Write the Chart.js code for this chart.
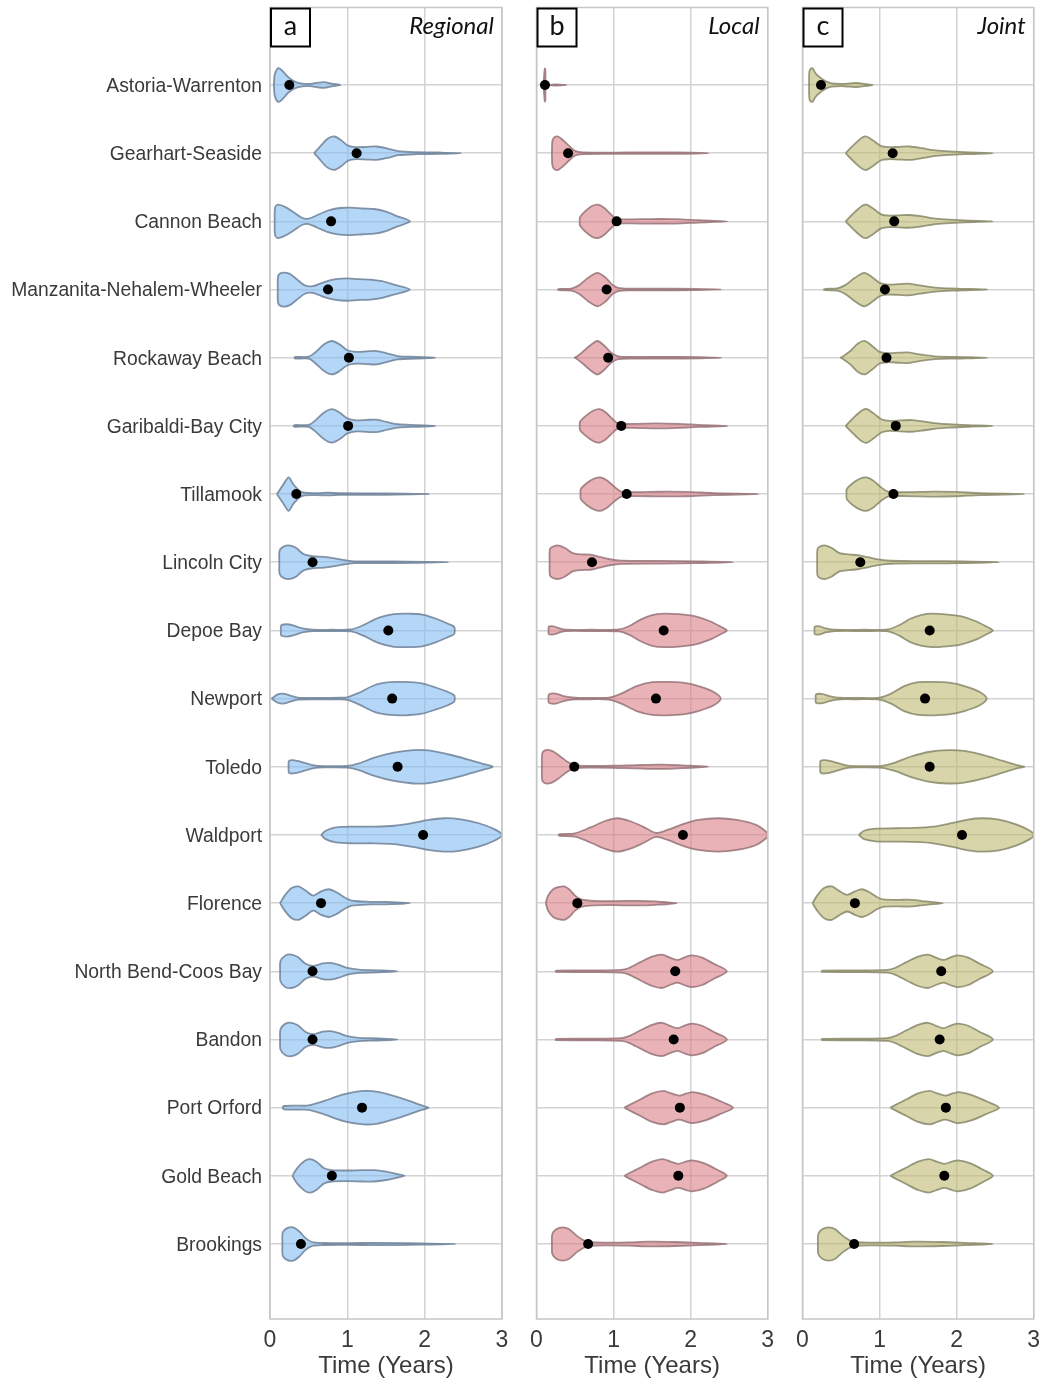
<!DOCTYPE html>
<html>
<head>
<meta charset="utf-8">
<script src="https://cdn.jsdelivr.net/npm/chart.js@4.4.1/dist/chart.umd.min.js"></script>
<style>
  html, body { margin: 0; padding: 0; background: #ffffff; }
  #wrap { position: relative; width: 1043px; height: 1387px; overflow: hidden; }
  canvas { position: absolute; top: 0; }
</style>
</head>
<body>
<div id="wrap">
  <canvas id="panelA" width="520" height="1387" style="left:0px"></canvas>
  <canvas id="panelB" width="265" height="1387" style="left:520px"></canvas>
  <canvas id="panelC" width="257" height="1387" style="left:786px"></canvas>
</div>
<script>
// Communities, top to bottom
const locations = [
  'Astoria-Warrenton', 'Gearhart-Seaside', 'Cannon Beach', 'Manzanita-Nehalem-Wheeler',
  'Rockaway Beach', 'Garibaldi-Bay City', 'Tillamook', 'Lincoln City', 'Depoe Bay',
  'Newport', 'Toledo', 'Waldport', 'Florence', 'North Bend-Coos Bay', 'Bandon',
  'Port Orford', 'Gold Beach', 'Brookings'
];
const timeTicks = [0, 1, 2, 3];
const panelLetters = ['a', 'b', 'c'];
const panelTitles = ['Regional', 'Local', 'Joint'];

// Mean recovery time (years) per community
const regionalMeans = [0.25, 1.12, 0.79, 0.75, 1.02, 1.01, 0.34, 0.55, 1.53, 1.58, 1.65, 1.98, 0.66, 0.55, 0.55, 1.19, 0.80, 0.40];
const localMeans    = [0.11, 0.41, 1.04, 0.91, 0.93, 1.10, 1.17, 0.72, 1.65, 1.55, 0.49, 1.90, 0.53, 1.80, 1.78, 1.86, 1.84, 0.67];
const jointMeans    = [0.24, 1.17, 1.19, 1.07, 1.09, 1.21, 1.18, 0.75, 1.65, 1.59, 1.65, 2.07, 0.68, 1.80, 1.78, 1.86, 1.84, 0.67];

// Density profiles: [time (years), relative density 0..1]
const regionalDensity = [
  [[0.05,0],[0.06,0.6],[0.09,0.95],[0.12,1.0],[0.17,0.8],[0.24,0.45],[0.32,0.2],[0.42,0.08],[0.52,0.07],[0.62,0.14],[0.70,0.17],[0.80,0.08],[0.91,0]],
  [[0.57,0],[0.63,0.3],[0.74,0.85],[0.83,1.0],[0.92,0.78],[1.01,0.45],[1.12,0.36],[1.25,0.38],[1.38,0.4],[1.52,0.28],[1.66,0.12],[1.9,0.06],[2.2,0.04],[2.47,0]],
  [[0.06,0],[0.065,0.8],[0.1,1.0],[0.2,0.85],[0.32,0.5],[0.42,0.2],[0.5,0.16],[0.6,0.35],[0.75,0.65],[0.9,0.8],[1.05,0.82],[1.2,0.77],[1.35,0.74],[1.5,0.58],[1.65,0.3],[1.81,0]],
  [[0.1,0],[0.105,0.8],[0.15,1.0],[0.25,0.95],[0.35,0.6],[0.45,0.25],[0.55,0.2],[0.7,0.45],[0.85,0.62],[1.0,0.67],[1.15,0.62],[1.3,0.6],[1.45,0.5],[1.6,0.3],[1.81,0]],
  [[0.31,0],[0.33,0.05],[0.5,0.06],[0.58,0.3],[0.7,0.8],[0.8,1.0],[0.9,0.8],[1.0,0.45],[1.12,0.35],[1.25,0.38],[1.38,0.4],[1.52,0.25],[1.65,0.1],[1.9,0.05],[2.14,0]],
  [[0.3,0],[0.32,0.05],[0.5,0.06],[0.58,0.3],[0.7,0.8],[0.8,1.0],[0.9,0.8],[1.0,0.45],[1.12,0.33],[1.25,0.36],[1.38,0.37],[1.52,0.22],[1.65,0.1],[1.9,0.05],[2.14,0]],
  [[0.09,0],[0.17,0.55],[0.24,1.0],[0.3,0.6],[0.38,0.2],[0.45,0.08],[0.6,0.06],[0.76,0.08],[0.9,0.05],[1.5,0.04],[2.06,0]],
  [[0.12,0],[0.125,0.7],[0.18,0.95],[0.26,1.0],[0.34,0.85],[0.43,0.5],[0.55,0.36],[0.7,0.32],[0.85,0.22],[0.97,0.12],[1.1,0.05],[1.6,0.05],[2.31,0]],
  [[0.14,0],[0.145,0.3],[0.22,0.37],[0.3,0.3],[0.42,0.12],[0.55,0.04],[0.8,0.04],[1.05,0.06],[1.2,0.3],[1.4,0.75],[1.6,0.98],[1.8,1.0],[1.97,0.95],[2.15,0.7],[2.3,0.4],[2.38,0.22],[2.39,0]],
  [[0.02,0],[0.1,0.25],[0.17,0.3],[0.25,0.2],[0.36,0.06],[0.6,0.04],[0.9,0.05],[1.0,0.08],[1.15,0.35],[1.35,0.8],[1.55,0.98],[1.75,1.0],[1.95,0.92],[2.15,0.65],[2.3,0.4],[2.38,0.2],[2.39,0]],
  [[0.24,0],[0.245,0.35],[0.3,0.4],[0.4,0.3],[0.55,0.1],[0.7,0.04],[1.0,0.05],[1.15,0.2],[1.35,0.55],[1.6,0.85],[1.85,1.0],[2.05,0.98],[2.3,0.75],[2.55,0.45],[2.75,0.18],[2.88,0]],
  [[0.66,0],[0.72,0.25],[0.85,0.45],[1.1,0.5],[1.35,0.5],[1.6,0.55],[1.85,0.72],[2.05,0.9],[2.25,1.0],[2.45,0.95],[2.7,0.7],[2.9,0.35],[3.0,0]],
  [[0.13,0],[0.19,0.45],[0.28,0.9],[0.37,1.0],[0.46,0.75],[0.56,0.45],[0.66,0.7],[0.76,0.83],[0.86,0.65],[0.96,0.35],[1.06,0.15],[1.3,0.08],[1.5,0.07],[1.81,0]],
  [[0.13,0],[0.135,0.6],[0.2,0.95],[0.28,1.0],[0.36,0.85],[0.46,0.45],[0.56,0.32],[0.68,0.47],[0.78,0.5],[0.88,0.4],[1.0,0.2],[1.15,0.1],[1.4,0.06],[1.65,0]],
  [[0.13,0],[0.135,0.6],[0.2,0.95],[0.28,1.0],[0.36,0.85],[0.46,0.45],[0.56,0.32],[0.68,0.47],[0.78,0.5],[0.88,0.4],[1.0,0.2],[1.15,0.1],[1.4,0.06],[1.65,0]],
  [[0.16,0],[0.18,0.1],[0.35,0.12],[0.5,0.13],[0.7,0.4],[0.95,0.8],[1.2,1.0],[1.4,0.95],[1.6,0.7],[1.8,0.4],[1.95,0.15],[2.05,0]],
  [[0.29,0],[0.35,0.45],[0.45,0.9],[0.52,1.0],[0.6,0.85],[0.7,0.45],[0.8,0.34],[1.0,0.32],[1.2,0.34],[1.35,0.34],[1.5,0.25],[1.65,0.1],[1.74,0]],
  [[0.16,0],[0.165,0.7],[0.22,0.95],[0.3,1.0],[0.38,0.75],[0.46,0.35],[0.54,0.12],[0.7,0.06],[1.0,0.05],[1.4,0.07],[1.8,0.05],[2.4,0]]
];

const localDensity = [
  [[0.09,0],[0.105,0.9],[0.11,1.0],[0.115,0.9],[0.13,0.05],[0.25,0.04],[0.39,0]],
  [[0.2,0],[0.205,0.7],[0.23,0.95],[0.28,1.0],[0.34,0.8],[0.42,0.45],[0.5,0.14],[0.6,0.05],[1.2,0.04],[1.8,0.04],[2.23,0]],
  [[0.56,0],[0.565,0.25],[0.63,0.6],[0.72,0.92],[0.8,1.0],[0.88,0.8],[0.97,0.4],[1.04,0.15],[1.2,0.12],[1.5,0.14],[1.8,0.13],[2.1,0.07],[2.48,0]],
  [[0.27,0],[0.3,0.04],[0.45,0.06],[0.55,0.25],[0.67,0.7],[0.79,1.0],[0.9,0.7],[0.98,0.3],[1.06,0.1],[1.2,0.05],[1.8,0.05],[2.4,0]],
  [[0.49,0],[0.52,0.06],[0.6,0.35],[0.7,0.75],[0.79,1.0],[0.88,0.72],[0.97,0.3],[1.06,0.08],[1.3,0.05],[1.9,0.05],[2.4,0]],
  [[0.56,0],[0.565,0.25],[0.64,0.6],[0.74,0.92],[0.82,1.0],[0.9,0.8],[0.99,0.4],[1.06,0.15],[1.25,0.12],[1.55,0.15],[1.85,0.12],[2.1,0.06],[2.48,0]],
  [[0.57,0],[0.575,0.3],[0.65,0.65],[0.75,0.93],[0.83,1.0],[0.92,0.8],[1.02,0.4],[1.1,0.15],[1.3,0.12],[1.6,0.14],[1.95,0.13],[2.3,0.06],[2.88,0]],
  [[0.17,0],[0.175,0.8],[0.22,0.95],[0.29,1.0],[0.37,0.85],[0.47,0.55],[0.58,0.47],[0.7,0.45],[0.82,0.32],[0.95,0.18],[1.1,0.1],[1.6,0.08],[2.1,0.05],[2.55,0]],
  [[0.155,0],[0.16,0.22],[0.22,0.24],[0.3,0.12],[0.38,0.04],[0.7,0.04],[1.07,0.06],[1.2,0.25],[1.35,0.65],[1.5,0.92],[1.65,1.0],[1.85,0.97],[2.05,0.85],[2.25,0.55],[2.4,0.2],[2.47,0]],
  [[0.155,0],[0.16,0.25],[0.25,0.3],[0.35,0.15],[0.5,0.05],[0.7,0.04],[0.94,0.06],[1.1,0.3],[1.3,0.75],[1.5,0.98],[1.7,1.0],[1.9,0.95],[2.1,0.75],[2.3,0.4],[2.39,0]],
  [[0.07,0],[0.075,0.8],[0.12,1.0],[0.2,0.95],[0.3,0.65],[0.4,0.3],[0.49,0.1],[0.7,0.05],[1.0,0.06],[1.3,0.1],[1.63,0.13],[1.9,0.08],[2.23,0]],
  [[0.28,0],[0.3,0.05],[0.5,0.1],[0.7,0.45],[0.9,0.85],[1.05,1.0],[1.2,0.85],[1.38,0.5],[1.55,0.12],[1.7,0.3],[1.9,0.65],[2.1,0.9],[2.35,1.0],[2.6,0.9],[2.85,0.6],[2.99,0.15],[3.0,0]],
  [[0.12,0],[0.15,0.45],[0.22,0.85],[0.3,0.98],[0.36,1.0],[0.43,0.8],[0.5,0.45],[0.58,0.22],[0.75,0.13],[1.0,0.12],[1.3,0.14],[1.55,0.1],[1.82,0]],
  [[0.24,0],[0.26,0.04],[0.7,0.05],[1.1,0.08],[1.2,0.2],[1.35,0.55],[1.5,0.88],[1.63,1.0],[1.73,0.82],[1.83,0.68],[1.93,0.85],[2.02,0.95],[2.15,0.82],[2.3,0.45],[2.47,0]],
  [[0.24,0],[0.26,0.04],[0.7,0.05],[1.1,0.08],[1.2,0.2],[1.35,0.55],[1.5,0.88],[1.63,1.0],[1.73,0.82],[1.83,0.68],[1.93,0.85],[2.02,0.95],[2.15,0.82],[2.3,0.45],[2.47,0]],
  [[1.14,0],[1.2,0.15],[1.35,0.5],[1.5,0.85],[1.65,1.0],[1.75,0.85],[1.85,0.72],[1.95,0.85],[2.03,0.93],[2.2,0.75],[2.4,0.35],[2.55,0]],
  [[1.14,0],[1.2,0.15],[1.35,0.5],[1.5,0.85],[1.64,1.0],[1.74,0.85],[1.84,0.72],[1.94,0.85],[2.02,0.93],[2.18,0.75],[2.35,0.35],[2.47,0]],
  [[0.2,0],[0.205,0.6],[0.26,0.9],[0.34,1.0],[0.42,0.9],[0.52,0.5],[0.6,0.25],[0.68,0.12],[0.9,0.08],[1.2,0.1],[1.45,0.14],[1.8,0.12],[2.1,0.07],[2.47,0]]
];

const jointDensity = [
  [[0.085,0],[0.087,0.7],[0.1,0.95],[0.13,1.0],[0.17,0.7],[0.24,0.4],[0.31,0.2],[0.38,0.1],[0.5,0.07],[0.62,0.1],[0.7,0.12],[0.8,0.07],[0.91,0]],
  [[0.56,0],[0.6,0.2],[0.7,0.65],[0.78,0.95],[0.83,1.0],[0.92,0.75],[1.02,0.42],[1.12,0.36],[1.25,0.38],[1.39,0.4],[1.55,0.3],[1.7,0.18],[1.85,0.12],[2.1,0.06],[2.47,0]],
  [[0.56,0],[0.6,0.2],[0.7,0.65],[0.78,0.95],[0.83,1.0],[0.92,0.75],[1.02,0.42],[1.12,0.34],[1.25,0.36],[1.39,0.38],[1.55,0.3],[1.7,0.18],[1.85,0.12],[2.1,0.06],[2.47,0]],
  [[0.27,0],[0.3,0.04],[0.45,0.07],[0.55,0.25],[0.68,0.7],[0.8,1.0],[0.9,0.75],[1.0,0.4],[1.1,0.3],[1.25,0.32],[1.37,0.35],[1.52,0.25],[1.72,0.12],[2.0,0.06],[2.4,0]],
  [[0.49,0],[0.52,0.06],[0.62,0.4],[0.72,0.85],[0.81,1.0],[0.9,0.72],[1.0,0.35],[1.1,0.27],[1.25,0.3],[1.37,0.32],[1.52,0.2],[1.72,0.08],[2.0,0.05],[2.4,0]],
  [[0.56,0],[0.6,0.2],[0.7,0.65],[0.78,0.95],[0.84,1.0],[0.93,0.72],[1.03,0.38],[1.13,0.3],[1.28,0.33],[1.42,0.35],[1.58,0.26],[1.75,0.15],[1.9,0.1],[2.15,0.05],[2.47,0]],
  [[0.57,0],[0.575,0.3],[0.65,0.65],[0.75,0.93],[0.83,1.0],[0.92,0.8],[1.02,0.4],[1.11,0.15],[1.35,0.12],[1.7,0.15],[1.98,0.13],[2.3,0.06],[2.88,0]],
  [[0.19,0],[0.195,0.8],[0.23,0.95],[0.3,1.0],[0.38,0.85],[0.48,0.55],[0.6,0.47],[0.72,0.42],[0.85,0.3],[1.0,0.16],[1.15,0.09],[1.6,0.07],[2.1,0.05],[2.55,0]],
  [[0.155,0],[0.16,0.22],[0.22,0.24],[0.3,0.12],[0.42,0.04],[0.8,0.04],[1.11,0.06],[1.25,0.3],[1.4,0.7],[1.55,0.93],[1.68,1.0],[1.88,0.95],[2.05,0.85],[2.25,0.55],[2.4,0.2],[2.47,0]],
  [[0.17,0],[0.175,0.25],[0.25,0.28],[0.35,0.15],[0.48,0.05],[0.7,0.04],[1.0,0.06],[1.15,0.3],[1.32,0.75],[1.5,0.98],[1.7,1.0],[1.9,0.95],[2.1,0.75],[2.3,0.4],[2.39,0]],
  [[0.23,0],[0.235,0.35],[0.3,0.4],[0.4,0.3],[0.55,0.1],[0.68,0.04],[1.03,0.06],[1.2,0.25],[1.4,0.6],[1.65,0.9],[1.89,1.0],[2.1,0.95],[2.35,0.7],[2.6,0.35],[2.78,0.1],[2.88,0]],
  [[0.73,0],[0.8,0.25],[0.95,0.38],[1.2,0.4],[1.45,0.42],[1.7,0.5],[1.95,0.72],[2.15,0.92],[2.32,1.0],[2.55,0.92],[2.78,0.62],[2.95,0.25],[3.0,0]],
  [[0.13,0],[0.19,0.45],[0.28,0.9],[0.38,1.0],[0.47,0.75],[0.58,0.5],[0.68,0.7],[0.77,0.83],[0.87,0.65],[0.97,0.35],[1.05,0.22],[1.25,0.2],[1.42,0.2],[1.6,0.1],[1.82,0]],
  [[0.24,0],[0.26,0.04],[0.7,0.05],[1.1,0.08],[1.2,0.2],[1.35,0.55],[1.5,0.88],[1.63,1.0],[1.73,0.82],[1.83,0.68],[1.93,0.85],[2.02,0.95],[2.15,0.82],[2.3,0.45],[2.47,0]],
  [[0.24,0],[0.26,0.04],[0.7,0.05],[1.1,0.08],[1.2,0.2],[1.35,0.55],[1.5,0.88],[1.63,1.0],[1.73,0.82],[1.83,0.68],[1.93,0.85],[2.02,0.95],[2.15,0.82],[2.3,0.45],[2.47,0]],
  [[1.14,0],[1.2,0.15],[1.35,0.5],[1.5,0.85],[1.65,1.0],[1.75,0.85],[1.85,0.72],[1.95,0.85],[2.03,0.93],[2.2,0.75],[2.4,0.35],[2.55,0]],
  [[1.14,0],[1.2,0.15],[1.35,0.5],[1.5,0.85],[1.64,1.0],[1.74,0.85],[1.84,0.72],[1.94,0.85],[2.02,0.93],[2.18,0.75],[2.35,0.35],[2.47,0]],
  [[0.2,0],[0.205,0.6],[0.26,0.9],[0.34,1.0],[0.42,0.9],[0.52,0.5],[0.6,0.25],[0.68,0.12],[0.9,0.08],[1.2,0.1],[1.45,0.14],[1.8,0.12],[2.1,0.07],[2.47,0]]
];

// ---- drawing ----
const ROW_HALF = 0.245;          // widest violin half-height, in row units
const Y_MIN = -0.137, Y_MAX = 19.1;
const LABEL_FONT = 'Liberation Sans, Arial, sans-serif';
const TEXT_COLOR = '#3a3a3a';
const GRID_COLOR = '#d3d3d3';

// closed outline: upper edge left->right, lower edge right->left
function violinOutline(profile, row) {
  const upper = profile.map(([x, w]) => ({ x: x, y: row - w * ROW_HALF }));
  const lower = profile.slice().reverse().map(([x, w]) => ({ x: x, y: row + w * ROW_HALF }));
  return upper.concat(lower.slice(1));
}

const panelFrame = {
  id: 'panelFrame',
  afterDraw(chart, args, opts) {
    const { ctx } = chart;
    const { left, top, right, bottom } = chart.chartArea;
    ctx.save();
    ctx.strokeStyle = '#c6c6c6';
    ctx.lineWidth = 1.5;
    ctx.strokeRect(left, top, right - left, bottom - top);
    // lettered box
    ctx.fillStyle = '#ffffff';
    ctx.fillRect(left, top, 41, 40);
    ctx.strokeStyle = '#000000';
    ctx.lineWidth = 2;
    ctx.strokeRect(left + 1, top + 1, 39, 38);
    ctx.fillStyle = '#111111';
    ctx.font = '27px Lato, "Open Sans", sans-serif';
    ctx.textAlign = 'center';
    ctx.textBaseline = 'middle';
    ctx.fillText(opts.letter, left + 20.5, top + 18.5);
    // scenario name
    ctx.font = 'italic 24px Lato, "Open Sans", sans-serif';
    ctx.textAlign = 'right';
    ctx.textBaseline = 'alphabetic';
    ctx.fillText(opts.title, right - 8, top + 26);
    ctx.restore();
  }
};

function buildPanel(canvasId, idx, density, means, fill, edge, padding) {
  const showNames = idx === 0;
  const datasets = density.map((profile, i) => ({
    type: 'line',
    data: violinOutline(profile, i + 1),
    fill: 'shape',
    backgroundColor: fill,
    borderColor: edge,
    borderWidth: 1.8,
    pointRadius: 0,
    tension: 0.3,
    order: 1
  }));
  datasets.push({
    type: 'line',
    data: means.map((m, i) => ({ x: m, y: i + 1 })),
    showLine: false,
    pointRadius: 5,
    pointBackgroundColor: '#000000',
    pointBorderWidth: 0,
    order: 0
  });

  return new Chart(document.getElementById(canvasId), {
    type: 'line',
    data: { datasets: datasets },
    plugins: [panelFrame],
    options: {
      responsive: false,
      animation: false,
      events: [],
      layout: { padding: padding },
      plugins: {
        legend: { display: false },
        tooltip: { enabled: false },
        panelFrame: { letter: panelLetters[idx], title: panelTitles[idx] }
      },
      scales: {
        x: {
          type: 'linear',
          min: 0,
          max: 3,
          afterBuildTicks: (s) => { s.ticks = timeTicks.map(v => ({ value: v })); },
          grid: { color: GRID_COLOR, lineWidth: 1.5, drawTicks: false },
          border: { display: false },
          ticks: {
            font: { family: LABEL_FONT, size: 23 },
            color: TEXT_COLOR,
            padding: 8,
            maxRotation: 0,
            autoSkip: false
          },
          title: {
            display: true,
            text: 'Time (Years)',
            font: { family: LABEL_FONT, size: 24 },
            color: TEXT_COLOR,
            padding: { top: 0, bottom: 6 }
          },
          afterFit: (s) => {
            s.height = 68;
            s.paddingLeft = 0;
            s.paddingRight = 0;
          }
        },
        y: {
          type: 'linear',
          reverse: true,
          min: Y_MIN,
          max: Y_MAX,
          afterBuildTicks: (s) => { s.ticks = locations.map((_, i) => ({ value: i + 1 })); },
          grid: { color: GRID_COLOR, lineWidth: 1.5, drawTicks: false },
          border: { display: false },
          ticks: {
            display: showNames,
            autoSkip: false,
            callback: (v) => locations[Math.round(v) - 1],
            font: { family: LABEL_FONT, size: 19.3 },
            color: TEXT_COLOR,
            padding: 8,
            labelOffset: 1.5
          },
          afterFit: (s) => {
            s.width = showNames ? 270 : 0;
            s.paddingTop = 0;
            s.paddingBottom = 0;
          }
        }
      }
    }
  });
}

buildPanel('panelA', 0, regionalDensity, regionalMeans,
  'rgba(130,188,243,0.6)', 'rgba(105,122,145,0.8)', { left: 0, right: 18, top: 7.5, bottom: 0 });
buildPanel('panelB', 1, localDensity, localMeans,
  'rgba(217,127,135,0.6)', 'rgba(145,110,115,0.8)', { left: 16.5, right: 17.3, top: 7.5, bottom: 0 });
buildPanel('panelC', 2, jointDensity, jointMeans,
  'rgba(190,185,113,0.6)', 'rgba(130,130,100,0.8)', { left: 16.5, right: 9.3, top: 7.5, bottom: 0 });
</script>
</body>
</html>
